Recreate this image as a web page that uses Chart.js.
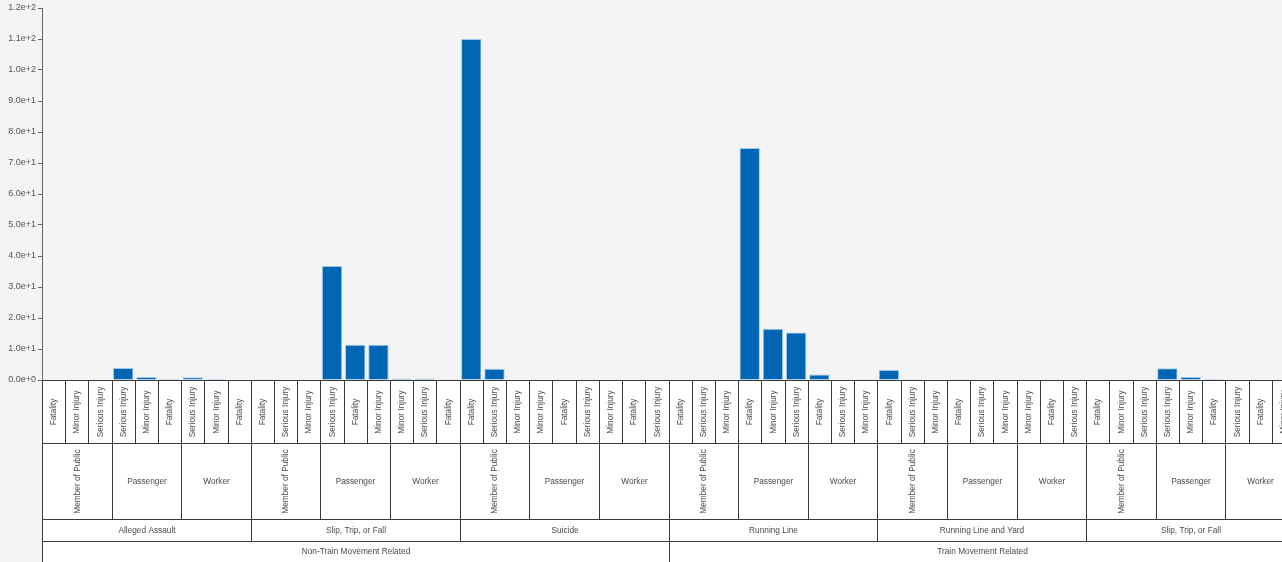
<!DOCTYPE html>
<html>
<head>
<meta charset="utf-8">
<script src="https://cdn.jsdelivr.net/npm/chart.js@4/dist/chart.umd.min.js"></script>
<style>
  html, body { margin: 0; padding: 0; background: #f4f4f4; overflow: hidden; }
  #wrap { width: 1300px; height: 562px; }
</style>
</head>
<body>
<div id="wrap"><canvas id="incident_chart" width="1300" height="562"></canvas></div>
<script>
/////////////////////////////////// DATA ///////////////////////////////////
const movementTypes = ['Non-Train Movement Related', 'Train Movement Related'];

const incidentTypes = [
    'Alleged Assault', 'Slip, Trip, or Fall', 'Suicide',
    'Running Line', 'Running Line and Yard', 'Slip, Trip, or Fall'
];

const personTypes = ['Member of Public', 'Passenger', 'Worker'];

const severities = [
    // Alleged Assault
    'Fatality', 'Minor Injury', 'Serious Injury',
    'Serious Injury', 'Minor Injury', 'Fatality',
    'Serious Injury', 'Minor Injury', 'Fatality',
    // Slip, Trip, or Fall
    'Fatality', 'Serious Injury', 'Minor Injury',
    'Serious Injury', 'Fatality', 'Minor Injury',
    'Minor Injury', 'Serious Injury', 'Fatality',
    // Suicide
    'Fatality', 'Serious Injury', 'Minor Injury',
    'Minor Injury', 'Fatality', 'Serious Injury',
    'Minor Injury', 'Fatality', 'Serious Injury',
    // Running Line
    'Fatality', 'Serious Injury', 'Minor Injury',
    'Fatality', 'Minor Injury', 'Serious Injury',
    'Fatality', 'Serious Injury', 'Minor Injury',
    // Running Line and Yard
    'Fatality', 'Serious Injury', 'Minor Injury',
    'Fatality', 'Serious Injury', 'Minor Injury',
    'Minor Injury', 'Fatality', 'Serious Injury',
    // Slip, Trip, or Fall
    'Fatality', 'Minor Injury', 'Serious Injury',
    'Serious Injury', 'Minor Injury', 'Fatality',
    'Serious Injury', 'Fatality', 'Minor Injury'
];

const counts = [
    0, 0, 0,    3.9, 1, 0.3,    0.9, 0.3, 0,
    0.1, 0, 0,  36.8, 11.4, 11.4,  0.5, 0.5, 0.1,
    110, 3.6, 0,  0, 0, 0,  0, 0, 0,
    0.2, 0.2, 0,  74.8, 16.5, 15.3,  1.8, 0.2, 0.1,
    3.2, 0.1, 0,  0.1, 0, 0,  0, 0, 0,
    0, 0, 0,  3.8, 1, 0.3,  0, 0, 0
];

/////////////////////////////////// LABEL GRID PLUGIN ///////////////////////////////////
const labelFont = '8.3px "Liberation Sans", Arial, sans-serif';
const lineColor = '#3a3a3a';
const textColor = '#4a4a4a';

function spansFor(groupSize, names) {
    const spans = [];
    for (let i = 0; i < counts.length; i += groupSize) {
        spans.push({ start: i, end: i + groupSize - 1, text: names(i) });
    }
    return spans;
}

const hierarchyLabels = {
    id: 'hierarchyLabels',
    afterDraw(chart) {
        const ctx = chart.ctx;
        const x = chart.scales.x;
        const area = chart.chartArea;
        const step = x.getPixelForValue(1) - x.getPixelForValue(0);
        const left = i => x.getPixelForValue(i) - step / 2;
        const right = i => x.getPixelForValue(i) + step / 2;

        const rows = [
            { h: 63, spans: spansFor(1, i => severities[i]) },
            { h: 76, spans: spansFor(3, i => personTypes[(i / 3) % 3]) },
            { h: 22, spans: spansFor(9, i => incidentTypes[i / 9]) },
            { h: 40, spans: spansFor(27, i => movementTypes[i / 27]) }
        ];

        ctx.save();
        ctx.font = labelFont;
        let y = Math.round(area.bottom) + 0.5;
        rows.forEach((row, r) => {
            const y0 = y;
            const y1 = y + row.h;
            row.spans.forEach(s => {
                const a = Math.round(left(s.start)) + 0.5;
                const b = Math.round(right(s.end)) + 0.5;
                ctx.fillStyle = '#ffffff';
                ctx.fillRect(a, y0, b - a, y1 - y0);
                ctx.strokeStyle = lineColor;
                ctx.lineWidth = 1;
                ctx.beginPath();
                ctx.moveTo(a, y0); ctx.lineTo(a, y1);
                ctx.moveTo(b, y0); ctx.lineTo(b, y1);
                if (r < 3) { ctx.moveTo(a, y1); ctx.lineTo(b, y1); }
                ctx.moveTo(a, y0); ctx.lineTo(b, y0);
                ctx.stroke();

                const cx = (a + b) / 2;
                const cy = r === 3 ? y0 + 10 : (y0 + y1) / 2;
                const w = ctx.measureText(s.text).width;
                ctx.fillStyle = textColor;
                ctx.textBaseline = 'middle';
                ctx.textAlign = 'center';
                if (w > b - a - 6) {
                    ctx.save();
                    ctx.translate(cx, cy);
                    ctx.rotate(-Math.PI / 2);
                    ctx.fillText(s.text, 0, 0);
                    ctx.restore();
                } else {
                    ctx.fillText(s.text, cx, cy);
                }
            });
            y = y1;
        });
        ctx.restore();
    }
};

/////////////////////////////////// CHART ///////////////////////////////////
const ctx_incidents = document.getElementById('incident_chart');

const incident_chart = new Chart(ctx_incidents, {
    type: 'bar',
    data: {
        labels: severities.map((s, i) => i),
        datasets: [{
            data: counts,
            backgroundColor: '#0066b3',
            borderColor: 'rgba(150, 195, 235, 0.9)',
            borderWidth: 1,
            categoryPercentage: 1,
            barPercentage: 0.88
        }]
    },
    options: {
        responsive: false,
        animation: false,
        devicePixelRatio: 1,
        layout: { padding: { top: 8, right: 5, bottom: 182, left: 0 } },
        plugins: {
            legend: { display: false },
            tooltip: { enabled: false }
        },
        scales: {
            x: {
                display: false
            },
            y: {
                min: 0,
                max: 120,
                afterFit: scale => { scale.width = 42; },
                ticks: {
                    stepSize: 10,
                    color: '#555',
                    font: { family: '"Liberation Sans", Arial, sans-serif', size: 9 },
                    padding: 2,
                    callback: v => Number(v).toExponential(1)
                },
                grid: {
                    drawOnChartArea: false,
                    drawTicks: true,
                    tickLength: 4,
                    color: '#666'
                },
                border: { display: true, color: '#666' }
            }
        }
    },
    plugins: [hierarchyLabels]
});
</script>
</body>
</html>
